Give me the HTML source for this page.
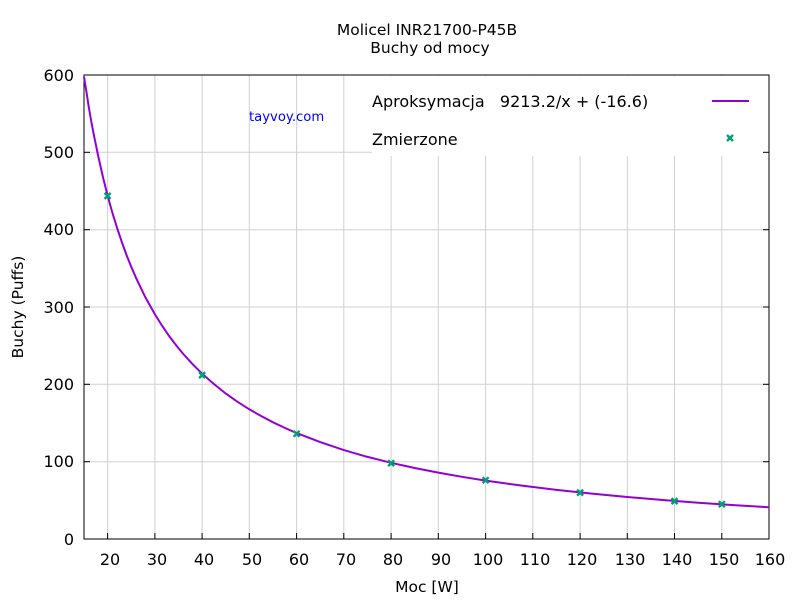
<!DOCTYPE html>
<html><head><meta charset="utf-8"><style>body{margin:0;background:#fff}svg{display:block}text{font-family:"DejaVu Sans","Liberation Sans",sans-serif;fill:#000;white-space:pre}</style></head><body>
<svg width="800" height="600" xmlns="http://www.w3.org/2000/svg">
<g stroke="#d0d0d0" stroke-width="1">
<line x1="107.6" y1="75" x2="107.6" y2="539"/><line x1="154.9" y1="75" x2="154.9" y2="539"/><line x1="202.1" y1="75" x2="202.1" y2="539"/><line x1="249.3" y1="75" x2="249.3" y2="539"/><line x1="296.6" y1="75" x2="296.6" y2="539"/><line x1="343.8" y1="75" x2="343.8" y2="539"/><line x1="391.1" y1="75" x2="391.1" y2="539"/><line x1="438.3" y1="75" x2="438.3" y2="539"/><line x1="485.6" y1="75" x2="485.6" y2="539"/><line x1="532.8" y1="75" x2="532.8" y2="539"/><line x1="580.1" y1="75" x2="580.1" y2="539"/><line x1="627.3" y1="75" x2="627.3" y2="539"/><line x1="674.5" y1="75" x2="674.5" y2="539"/><line x1="721.8" y1="75" x2="721.8" y2="539"/>
<line x1="84" y1="461.7" x2="769" y2="461.7"/><line x1="84" y1="384.3" x2="769" y2="384.3"/><line x1="84" y1="307" x2="769" y2="307"/><line x1="84" y1="229.7" x2="769" y2="229.7"/><line x1="84" y1="152.3" x2="769" y2="152.3"/>
</g>
<rect x="372" y="76" width="396" height="80" fill="#fff"/>
<rect x="84" y="75" width="685" height="464" fill="none" stroke="#000" stroke-width="1"/>
<g stroke="#000"><line x1="107.6" y1="539" x2="107.6" y2="533"/><line x1="154.9" y1="539" x2="154.9" y2="533"/><line x1="202.1" y1="539" x2="202.1" y2="533"/><line x1="249.3" y1="539" x2="249.3" y2="533"/><line x1="296.6" y1="539" x2="296.6" y2="533"/><line x1="343.8" y1="539" x2="343.8" y2="533"/><line x1="391.1" y1="539" x2="391.1" y2="533"/><line x1="438.3" y1="539" x2="438.3" y2="533"/><line x1="485.6" y1="539" x2="485.6" y2="533"/><line x1="532.8" y1="539" x2="532.8" y2="533"/><line x1="580.1" y1="539" x2="580.1" y2="533"/><line x1="627.3" y1="539" x2="627.3" y2="533"/><line x1="674.5" y1="539" x2="674.5" y2="533"/><line x1="721.8" y1="539" x2="721.8" y2="533"/>
<line x1="84" y1="461.7" x2="90" y2="461.7"/><line x1="84" y1="384.3" x2="90" y2="384.3"/><line x1="84" y1="307" x2="90" y2="307"/><line x1="84" y1="229.7" x2="90" y2="229.7"/><line x1="84" y1="152.3" x2="90" y2="152.3"/>
<line x1="769" y1="461.7" x2="763" y2="461.7"/><line x1="769" y1="384.3" x2="763" y2="384.3"/><line x1="769" y1="307" x2="763" y2="307"/><line x1="769" y1="229.7" x2="763" y2="229.7"/><line x1="769" y1="152.3" x2="763" y2="152.3"/></g>
<g font-size="16" text-anchor="middle">
<text x="110" y="565">20</text><text x="157" y="565">30</text><text x="204" y="565">40</text><text x="252" y="565">50</text><text x="299" y="565">60</text><text x="346" y="565">70</text><text x="393" y="565">80</text><text x="441" y="565">90</text><text x="488" y="565">100</text><text x="535" y="565">110</text><text x="582" y="565">120</text><text x="630" y="565">130</text><text x="677" y="565">140</text><text x="724" y="565">150</text><text x="770" y="565">160</text>
</g>
<g font-size="16" text-anchor="end">
<text x="74" y="545">0</text><text x="74" y="467">100</text><text x="74" y="390">200</text><text x="74" y="313">300</text><text x="74" y="235">400</text><text x="74" y="158">500</text><text x="74" y="81">600</text>
</g>
<text x="427" y="35" font-size="15.5" text-anchor="middle">Molicel INR21700-P45B</text>
<text x="430" y="53" font-size="15.5" text-anchor="middle">Buchy od mocy</text>
<text x="427" y="592" font-size="15.5" text-anchor="middle">Moc [W]</text>
<text x="23" y="307" font-size="15.5" text-anchor="middle" transform="rotate(-90 23 307)">Buchy (Puffs)</text>
<text x="249" y="121" font-size="13.2" style="fill:#0000ff">tayvoy.com</text>
<text x="372" y="107" font-size="16">Aproksymacja   9213.2/x + (-16.6)</text>
<line x1="712" y1="101" x2="749" y2="101" stroke="#9400d3" stroke-width="2"/>
<text x="372" y="145" font-size="16">Zmierzone</text>
<polyline fill="none" stroke="#9400d3" stroke-width="2" points="84,76.9 86.4,91.5 88.7,106.6 91,120 93.4,132.7 98.2,156 102.9,176.9 107.6,195.6 112.3,212.5 117.1,228 121.8,242 126.5,255 131.2,266.7 136,277.8 145.4,297.4 154.9,314.3 162,325.6 169,335.9 176.1,345.2 183.2,353.9 192.6,364.2 202.1,373.7 213.9,384 225.7,393.5 237.5,401.8 249.3,409.3 261.1,416 273,422.3 284.8,427.9 296.6,433.1 320.2,442.1 343.8,450.1 367.5,456.9 391.1,462.8 414.7,468 438.3,472.6 462,476.8 485.6,480.6 521,485.5 556.4,489.9 591.8,493.6 627.3,497 662.7,500 698.2,502.7 733.6,505.1 769,507.3"/>
<g stroke="#009e73" stroke-width="2.4">
<path d="M727,135l6,6m0,-6l-6,6"/>
<path d="M104.6,192.9l6,6m0,-6l-6,6"/>
<path d="M199.1,372.1l6,6m0,-6l-6,6"/>
<path d="M293.6,430.8l6,6m0,-6l-6,6"/>
<path d="M388.1,460.2l6,6m0,-6l-6,6"/>
<path d="M482.6,477.2l6,6m0,-6l-6,6"/>
<path d="M577.1,489.6l6,6m0,-6l-6,6"/>
<path d="M671.5,498.1l6,6m0,-6l-6,6"/>
<path d="M718.8,501.2l6,6m0,-6l-6,6"/>
</g>
</svg>
</body></html>
